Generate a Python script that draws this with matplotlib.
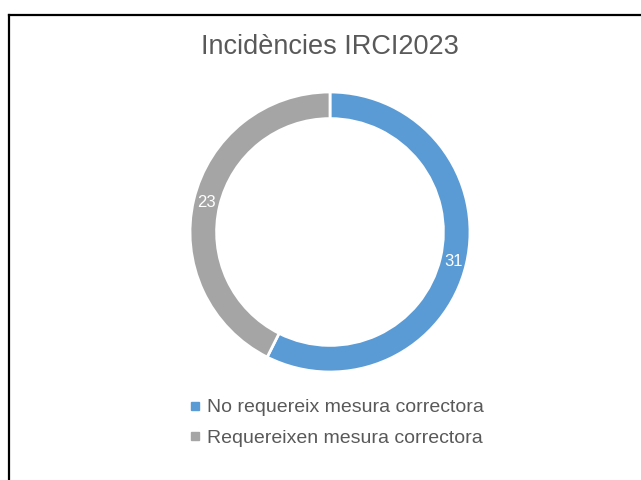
import matplotlib.pyplot as plt
from matplotlib.lines import Line2D

categories = ["No requereix mesura correctora", "Requereixen mesura correctora"]
values = [31, 23]
colors = ["#5B9BD5", "#A5A5A5"]
title = "Incidències IRCI2023"

plt.rcParams['font.family'] = ['Liberation Sans', 'DejaVu Sans']

W, H = 641, 480
fig = plt.figure(figsize=(W / 100, H / 100), dpi=100)

# donut centred at (330, 232) px, radius 140 px
cx, cy, r = 330, 232, 140
ax = fig.add_axes([(cx - r) / W, (H - cy - r) / H, 2 * r / W, 2 * r / H])

total = sum(values)
wedges, texts, autotexts = ax.pie(
    values, colors=colors, startangle=90, counterclock=False,
    radius=1, wedgeprops=dict(width=0.19, edgecolor='white', linewidth=2),
    autopct=lambda p: f"{round(p * total / 100)}", pctdistance=0.905,
    textprops=dict(color='white', fontsize=12))
ax.set_xlim(-1, 1)
ax.set_ylim(-1, 1)
ax.set_aspect('equal')
ax.axis('off')

fig.text(cx / W, 1 - 47 / H, title, ha='center', va='center',
         fontsize=19.5, color='#595959')

handles = [Line2D([], [], marker='s', linestyle='none', markersize=6,
                  markerfacecolor=c, markeredgecolor=c) for c in colors]
fig.legend(handles, categories, loc='center', bbox_to_anchor=(337 / W, 1 - 423 / H),
           frameon=False, fontsize=14, labelcolor='#595959', handlelength=0.5,
           handletextpad=0.35, labelspacing=0.68)

# partial frame: top and left edges only
fig.add_artist(Line2D([9 / W, 1], [1 - 15 / H, 1 - 15 / H], color='black', lw=1.6))
fig.add_artist(Line2D([9 / W, 9 / W], [0, 1 - 15 / H], color='black', lw=1.6))

fig.savefig('out.png', dpi=100)
